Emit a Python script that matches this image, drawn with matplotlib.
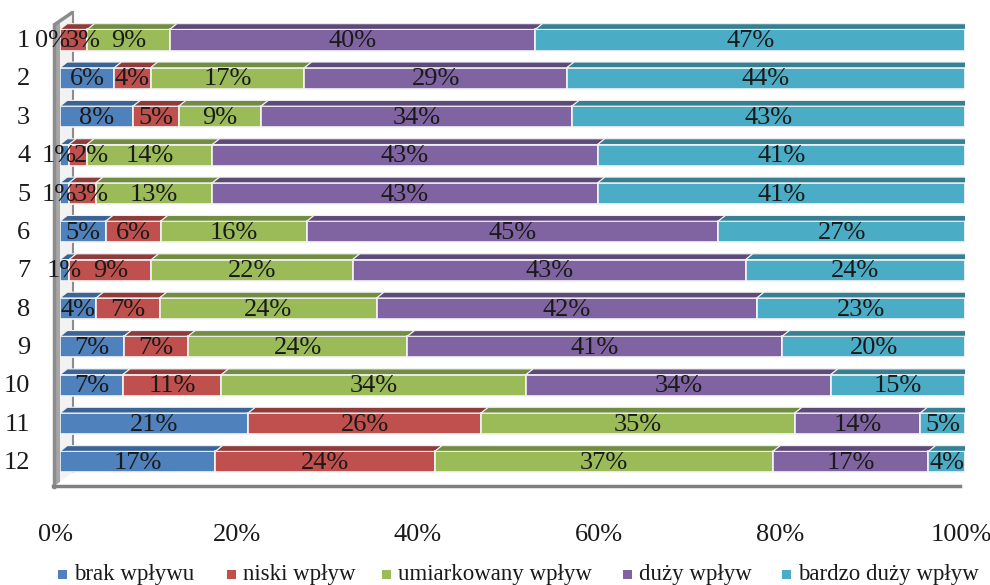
import matplotlib
matplotlib.use("Agg")
import matplotlib.pyplot as plt
from matplotlib.patches import Polygon, Rectangle
import numpy as np

plt.rcParams['font.family'] = ['Liberation Serif', 'DejaVu Serif']

categories = ['1', '2', '3', '4', '5', '6', '7', '8', '9', '10', '11', '12']
series_names = ['brak wpływu', 'niski wpływ', 'umiarkowany wpływ', 'duży wpływ', 'bardzo duży wpływ']
brak = [0, 6, 8, 1, 1, 5, 1, 4, 7, 7, 21, 17]
niski = [3, 4, 5, 2, 3, 6, 9, 7, 7, 11, 26, 24]
umiark = [9, 17, 9, 14, 13, 16, 22, 24, 24, 34, 35, 37]
duzy = [40, 29, 34, 43, 43, 45, 43, 42, 41, 34, 14, 17]
bardzo = [47, 44, 43, 41, 41, 27, 24, 23, 20, 15, 5, 4]
xticks = [0, 20, 40, 60, 80, 100]

# label nudges (pixels) where small labels were spread apart in the original
label_nudge = {(0, 0): -7, (0, 1): 9, (3, 0): -5, (3, 1): 14, (4, 0): -5, (4, 1): 9}

front = ['#4F81BD', '#C0504D', '#9BBB59', '#8064A2', '#4BACC6']
top = ['#3A6496', '#8E3B39', '#728C42', '#5E4A79', '#377F93']
side_col = '#2C6A79'

W, H = 990, 585
fig = plt.figure(figsize=(W / 100, H / 100), dpi=100)

# decoration axes in pixel coords (behind)
deco = fig.add_axes([0, 0, 1, 1], zorder=0)
deco.set_xlim(0, W)
deco.set_ylim(H, 0)
deco.axis('off')

row_top_px = 20.8
row_step = 38.36
ax_bottom = (H - (row_top_px + row_step * 12)) / H
ax_h = row_step * 12 / H
ax = fig.add_axes([60 / W, ax_bottom, 905 / W, ax_h], zorder=1)
ax.patch.set_alpha(0)
ax.set_xlim(0, 100)
ax.set_ylim(12.5, 0.5)
ax.axis('off')

# back wall / floor decorations
deco.add_patch(Polygon([[54, 25], [73, 12], [73, 472], [54, 486]], closed=True,
                       facecolor='#f2f2f2', edgecolor='none'))
deco.add_patch(Polygon([[54, 25], [60, 21], [60, 482], [54, 486]], closed=True,
                       facecolor='#a6a6a6', edgecolor='none'))
deco.plot([73, 73], [12, 472], color='#8c8c8c', lw=1.5)
deco.plot([54, 73], [25, 12], color='#8c8c8c', lw=2.5, solid_capstyle='butt')
deco.plot([54, 54], [25, 487], color='#8c8c8c', lw=2.5)
deco.plot([53, 960], [486, 486], color='#808080', lw=2.5)

data = np.array([brak, niski, umiark, duzy, bardzo], dtype=float)
totals = data.sum(axis=0)
widths = data / totals * 100
ypos = np.arange(1, len(categories) + 1)
bh = 0.55
dx = 0.8
dy = 0.15

for i, y in enumerate(ypos):
    left = 0.0
    ytop = y - bh / 2
    for s in range(len(series_names)):
        w = widths[s, i]
        ax.barh(y, w, left=left, height=bh, color=front[s], edgecolor='#f4f4f4',
                linewidth=1.2, zorder=3)
        ax.add_patch(Polygon([[left, ytop], [left + w, ytop], [left + w + dx, ytop - dy],
                              [left + dx, ytop - dy]], closed=True, facecolor=top[s],
                             edgecolor='#f0f0f0', linewidth=0.8, zorder=3))
        ax.annotate(f"{int(data[s, i])}%", (left + w / 2, y + 0.03),
                    xytext=(label_nudge.get((i, s), 0), 0), textcoords='offset pixels',
                    ha='center', va='center', fontsize=19, color='#1a1a1a', zorder=5)
        left += w
    ax.add_patch(Polygon([[left, ytop], [left, ytop + bh], [left + dx, ytop + bh - dy],
                          [left + dx, ytop - dy]], closed=True, facecolor=side_col,
                         edgecolor='#f0f0f0', linewidth=0.8, zorder=3))
    ax.text(-3.3, y + 0.03, categories[i], ha='right', va='center', fontsize=19,
            color='#1a1a1a')

for t in xticks:
    ax.text(t - 0.45, 13.9, f"{t}%", ha='center', va='center', fontsize=19,
            color='#1a1a1a', clip_on=False)

# legend
leg_x = [58, 227, 382, 623, 782]
for s, name in enumerate(series_names):
    deco.add_patch(Rectangle((leg_x[s], 570), 9, 9, facecolor=front[s], edgecolor='none'))
    deco.text(leg_x[s] + 16, 574.5, name, ha='left', va='center', fontsize=16.5,
              color='#1a1a1a')

fig.savefig('out.png', dpi=100)
